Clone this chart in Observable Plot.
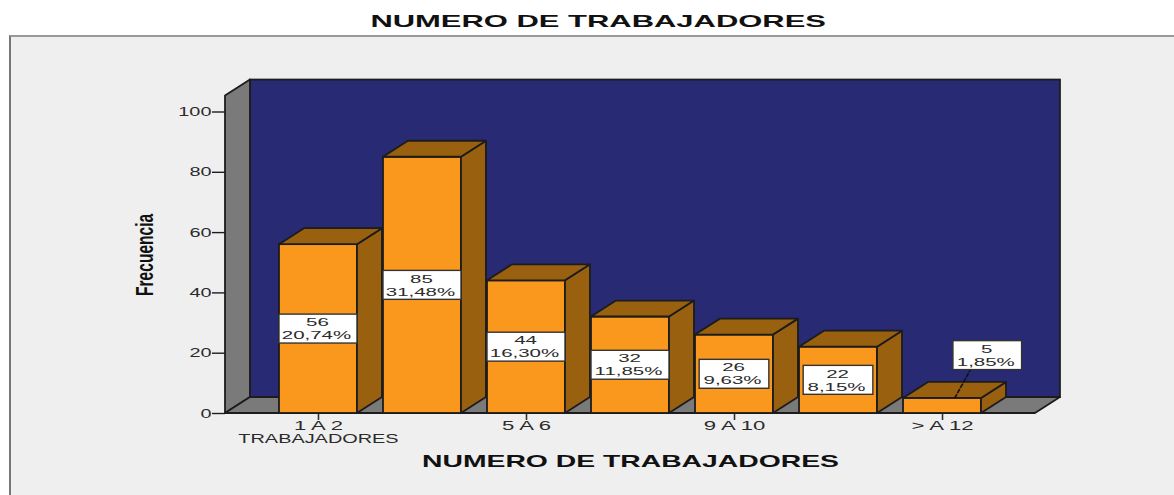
<!DOCTYPE html>
<html>
<head>
<meta charset="utf-8">
<script src="https://cdn.jsdelivr.net/npm/d3@7"></script>
<script src="https://cdn.jsdelivr.net/npm/@observablehq/plot@0.6"></script>
<style>
html, body { margin: 0; padding: 0; width: 1174px; height: 495px; overflow: hidden; background: #fff; }
#title { position: absolute; left: 0; top: 12px; width: 1196px; text-align: center; font: bold 17px "Liberation Sans", Arial, sans-serif; color: #111; line-height: 20px; }
#title span { display: inline-block; transform: scaleX(1.82); }
#panel { position: absolute; left: 9px; top: 35px; width: 1165px; height: 460px; box-sizing: border-box; background: #efefef; border-left: 2px solid #777; border-top: 2px solid #999; }
#chart { position: absolute; left: 0; top: 35px; }
</style>
</head>
<body>
<div id="panel"></div>
<div id="title"><span>NUMERO DE TRABAJADORES</span></div>
<div id="chart"></div>
<script>
const categories = ["1 A 2", "3 A 4", "5 A 6", "7 A 8", "9 A 10", "11 A 12", "> A 12"];
const counts = [56, 85, 44, 32, 26, 22, 5];
const percents = ["20,74%", "31,48%", "16,30%", "11,85%", "9,63%", "8,15%", "1,85%"];
const yTicks = [0, 20, 40, 60, 80, 100];
const xTickIndex = [0, 2, 4, 6];

const ink = "#1c1c1c", textInk = "#2b2b2b";
const navy = "#282a74", wallGray = "#7a7a7a", orange = "#fa981e", shade = "#99600f";
const font = "Liberation Sans, Arial, sans-serif";

// Depth of the 3D projection, in scale units
const dX = 0.24, dY = 5.3;
const half = 0.375;
const xMin = -0.894, xMax = 6.894, yWall = 105.3;

const bars = counts.map((v, i) => ({i, v, label: percents[i], cat: categories[i]}));

const para = (z, a, b) => [
  {z, x1: a[0], y1: a[1], x2: a[2], y2: a[3]},
  {z, x1: b[0], y1: b[1], x2: b[2], y2: b[3]}
];
const sides = bars.flatMap(d => para(d.i,
  [d.i + half, 0, d.i + half, d.v],
  [d.i + half + dX, dY, d.i + half + dX, d.v + dY]));
const tops = bars.flatMap(d => para(d.i,
  [d.i - half, d.v, d.i + half, d.v],
  [d.i - half + dX, d.v + dY, d.i + half + dX, d.v + dY]));
const floor = para(0, [xMin, 0, xMax, 0], [xMin + dX, dY, xMax + dX, dY]);
const leftWall = para(0, [xMin, 0, xMin, yWall], [xMin + dX, dY, xMin + dX, yWall + dY]);

const face = (rows, fill) => Plot.area(rows, {x1: "x1", y1: "y1", x2: "x2", y2: "y2", z: "z", fill, stroke: ink, strokeWidth: 1.8, strokeLinejoin: "round"});

// Value boxes: centred on the bar, except the last one which sits above it on a leader
const boxes = bars.map(d => {
  const last = d.i === 6;
  return {
    ...d,
    cx: last ? d.i + 0.435 : d.i,
    cy: last ? 19.2 : d.v / 2,
    w: d.label.length === 6 ? 0.375 : (last ? 0.33 : 0.335)
  };
});

const plot = Plot.plot({
  width: 1174, height: 460,
  marginLeft: 225, marginRight: 139, marginTop: 76.5, marginBottom: 82,
  style: {background: "transparent", fontFamily: font, color: textInk},
  x: {type: "linear", domain: [xMin, xMax], axis: null},
  y: {domain: [0, 100], axis: null},
  marks: [
    Plot.rect([0], {x1: xMin + dX, x2: xMax + dX, y1: dY, y2: yWall + dY, fill: navy, stroke: ink, strokeWidth: 1.8}),
    face(leftWall, wallGray),
    face(floor, wallGray),
    Plot.axisY({anchor: "left", ticks: yTicks, tickSize: 13, tickPadding: 1, fontSize: 13, label: null, stroke: ink, strokeWidth: 1.4, color: textInk}),
    Plot.axisX({anchor: "bottom", ticks: xTickIndex, tickSize: 7, tickPadding: 0, fontSize: 13, label: null, tickFormat: i => categories[i], stroke: "#333", strokeWidth: 1.6}),
    Plot.text(["TRABAJADORES"], {x: 0, y: 0, dy: 25.5, text: d => d, fontSize: 13, fill: textInk}),
    Plot.text(["NUMERO DE TRABAJADORES"], {x: 3, y: 0, dy: 48, text: d => d, fontSize: 17, fontWeight: "bold", fill: "#111", className: "xlabel"}),
    Plot.text(["Frecuencia"], {x: xMin, y: 52.6, dx: -80, rotate: -90, text: d => d, fontSize: 24, fontWeight: "bold", fill: "#111", className: "ylabel"}),
    Plot.rect(bars, {x1: d => d.i - half, x2: d => d.i + half, y1: 0, y2: "v", fill: orange, stroke: ink, strokeWidth: 1.8}),
    face(sides, shade),
    face(tops, shade),
    Plot.link([0], {x1: 6.115, y1: 5, x2: 6.27, y2: 14.6, stroke: "#111", strokeWidth: 1.6, strokeDasharray: "5,1"}),
    Plot.rect(boxes, {x1: d => d.cx - d.w, x2: d => d.cx + d.w, y1: d => d.cy - 4.8, y2: d => d.cy + 4.8, fill: "#fff", stroke: "#333", strokeWidth: 1.4}),
    Plot.text(boxes, {x: "cx", y: "cy", dy: -6.5, dx: -1, text: d => String(d.v), fontSize: 11.5, fill: textInk, className: "box"}),
    Plot.text(boxes, {x: "cx", y: "cy", dy: 6.5, dx: -2, text: "label", fontSize: 11.5, fill: textInk, className: "box"})
  ]
});
document.getElementById("chart").appendChild(plot);

// The reference is stretched horizontally: widen the glyphs of every text
plot.querySelectorAll("text").forEach(t => {
  const n = t.getComputedTextLength();
  t.setAttribute("lengthAdjust", "spacingAndGlyphs");
  if (t.closest(".xlabel")) t.setAttribute("textLength", 417);
  else if (t.closest(".ylabel")) t.setAttribute("textLength", 82);
  else if (t.closest(".box")) t.setAttribute("textLength", n * 1.78);
  else if (categories.includes(t.textContent)) t.setAttribute("textLength", n * 1.7);
  else t.setAttribute("textLength", n * 1.53);
});
</script>
</body>
</html>
